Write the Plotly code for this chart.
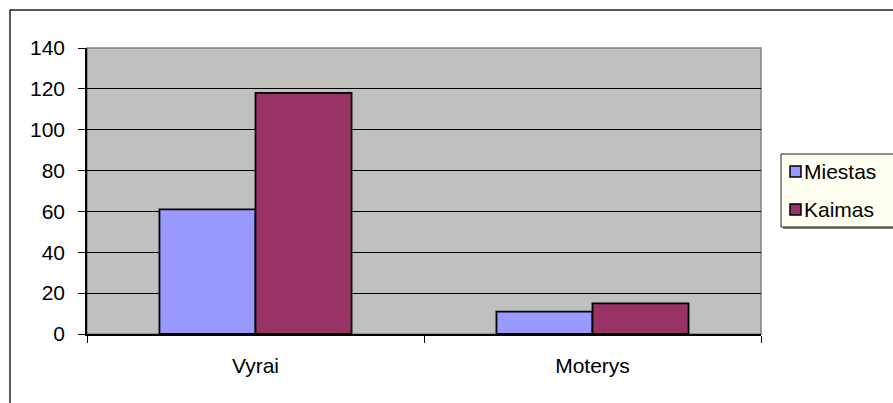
import plotly.graph_objects as go

# Categories and series values
categories = ["Vyrai", "Moterys"]
series_names = ["Miestas", "Kaimas"]
miestas = [61, 11]
kaimas = [118, 15]
y_ticks = [0, 20, 40, 60, 80, 100, 120, 140]

colors = ["#9999FF", "#993366"]
FONT = "Arial, 'Liberation Sans', sans-serif"
FS = 21

W, H = 893, 403
ML, MR, MT, MB = 87, 132, 48, 69
PW, PH = W - ML - MR, H - MT - MB


def px(x):
    return (x - ML) / PW


def py(y):
    return (H - MB - y) / PH


fig = go.Figure()
for name, vals, col in zip(series_names, [miestas, kaimas], colors):
    fig.add_trace(go.Bar(
        x=categories, y=vals, name=name,
        marker=dict(color=col, line=dict(color="black", width=1.8)),
        showlegend=False,
    ))

shapes = [
    # plot area border
    dict(type="rect", xref="paper", yref="paper", x0=0, x1=1, y0=0, y1=1,
         line=dict(color="#808080", width=1.5), layer="below"),
    # chart area border
    dict(type="rect", xref="paper", yref="paper", x0=px(10), x1=px(905),
         y0=py(415), y1=py(10), line=dict(color="#222222", width=1.5)),
    # legend box shadow and box
    dict(type="rect", xref="paper", yref="paper", x0=px(783), x1=px(905),
         y0=py(229), y1=py(156), fillcolor="#808080", line=dict(width=0)),
    dict(type="rect", xref="paper", yref="paper", x0=px(781), x1=px(903),
         y0=py(227), y1=py(154), fillcolor="#FFFFF2",
         line=dict(color="#222222", width=1)),
]
annotations = []
for i, (name, col) in enumerate(zip(series_names, colors)):
    cy = 171 + 38 * i
    shapes.append(dict(type="rect", xref="paper", yref="paper",
                       x0=px(790), x1=px(801), y0=py(cy + 6), y1=py(cy - 5),
                       fillcolor=col, line=dict(color="black", width=1.5)))
    annotations.append(dict(text=name, xref="paper", yref="paper",
                            x=px(802), y=py(cy), xanchor="left", yanchor="middle",
                            showarrow=False, font=dict(family=FONT, size=FS, color="black")))

fig.update_layout(
    width=W, height=H,
    margin=dict(l=ML, r=MR, t=MT, b=MB),
    paper_bgcolor="white",
    plot_bgcolor="#C0C0C0",
    barmode="group",
    bargap=0.43,
    bargroupgap=0,
    font=dict(family=FONT, size=FS, color="black"),
    shapes=shapes,
    annotations=annotations,
    xaxis=dict(
        showline=True, linecolor="black", linewidth=1.5,
        ticks="outside", ticklen=7, tickcolor="black", tickson="boundaries",
        showgrid=False, ticklabelstandoff=12,
    ),
    yaxis=dict(
        range=[0, 140], tickvals=y_ticks,
        showline=True, linecolor="black", linewidth=1.5,
        ticks="outside", ticklen=7, tickcolor="black",
        showgrid=True, gridcolor="black", gridwidth=1,
        zeroline=False, ticklabelstandoff=9,
    ),
)

fig.write_html("out.html")
